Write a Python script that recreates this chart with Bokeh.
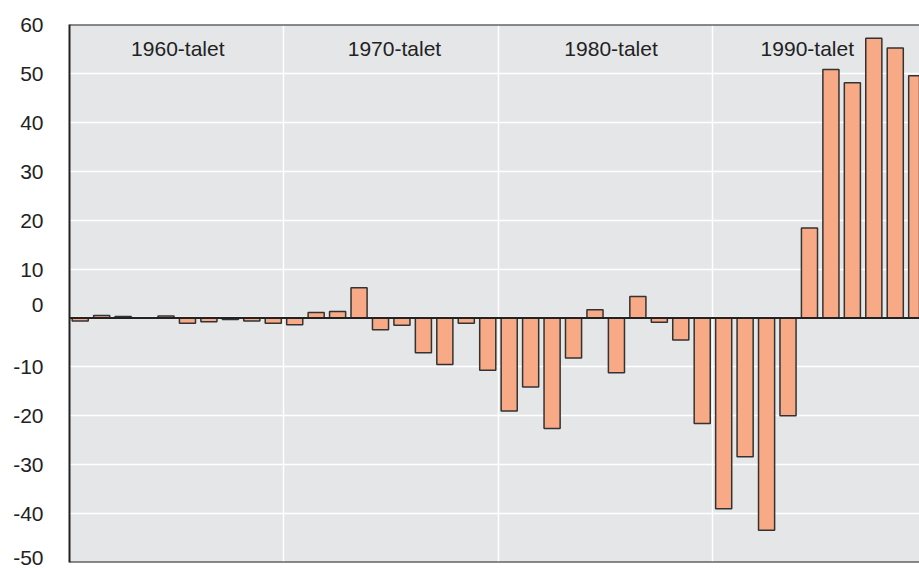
from bokeh.plotting import figure
from bokeh.models import FixedTicker, Span, ColumnDataSource
from bokeh.core.properties import value
from bokeh.embed import file_html
from bokeh.resources import INLINE

years = list(range(1960, 2000))
values = [
    -0.6, 0.5, 0.3, 0.0, 0.4, -1.1, -0.8, -0.3, -0.6, -1.1,
    -1.4, 1.1, 1.3, 6.2, -2.4, -1.5, -7.1, -9.5, -1.1, -10.7,
    -19.0, -14.1, -22.6, -8.2, 1.7, -11.2, 4.4, -0.9, -4.5, -21.6,
    -39.0, -28.4, -43.4, -20.0, 18.4, 50.8, 48.1, 57.2, 55.2, 49.5,
]
decade_labels = ["1960-talet", "1970-talet", "1980-talet", "1990-talet"]
decade_label_x = [1964.55, 1974.65, 1984.75, 1993.9]
decade_bounds = [1969.5, 1979.5, 1989.5]
y_ticks = [-50, -40, -30, -20, -10, 0, 10, 20, 30, 40, 50, 60]

FONT = "Liberation Sans"
TXT = "#222222"

p = figure(
    width=919, height=568,
    x_range=(1959.5, 1999.13), y_range=(-50, 60),
    output_backend="svg", toolbar_location=None,
    min_border_left=69, min_border_right=0, min_border_top=24, min_border_bottom=6,
)
p.background_fill_color = "#e5e6e8"
p.border_fill_color = "white"
p.outline_line_color = None

src = ColumnDataSource(dict(x=years, top=values))
p.vbar(x="x", top="top", bottom=0, width=0.75, source=src,
       fill_color="#f8aa87", line_color="#333333", line_width=1.5)

p.xaxis.visible = False
p.xgrid.ticker = FixedTicker(ticks=decade_bounds)
p.xgrid.grid_line_color = "white"
p.xgrid.grid_line_width = 1.5

overrides = {t: str(t) for t in y_ticks}
overrides[0] = "0\n "
p.yaxis.ticker = FixedTicker(ticks=y_ticks)
p.yaxis.major_label_overrides = overrides
p.yaxis.major_tick_out = 0
p.yaxis.major_tick_in = 0
p.yaxis.minor_tick_out = 0
p.yaxis.minor_tick_in = 0
p.yaxis.major_label_standoff = 26
p.yaxis.major_label_text_font = FONT
p.yaxis.major_label_text_font_size = "21px"
p.yaxis.major_label_text_color = TXT
p.yaxis.axis_line_color = TXT
p.yaxis.axis_line_width = 2
p.ygrid.ticker = FixedTicker(ticks=y_ticks)
p.ygrid.grid_line_color = "white"
p.ygrid.grid_line_width = 1.5

for loc in (60, -50, 0):
    p.add_layout(Span(location=loc, dimension="width", line_color=TXT, line_width=2))

p.text(x=decade_label_x, y=[55] * 4, text=decade_labels,
       text_font=value(FONT), text_font_size="21px", text_color=TXT,
       text_align="center", text_baseline="middle")

open("out.html", "w").write(file_html(p, INLINE))
